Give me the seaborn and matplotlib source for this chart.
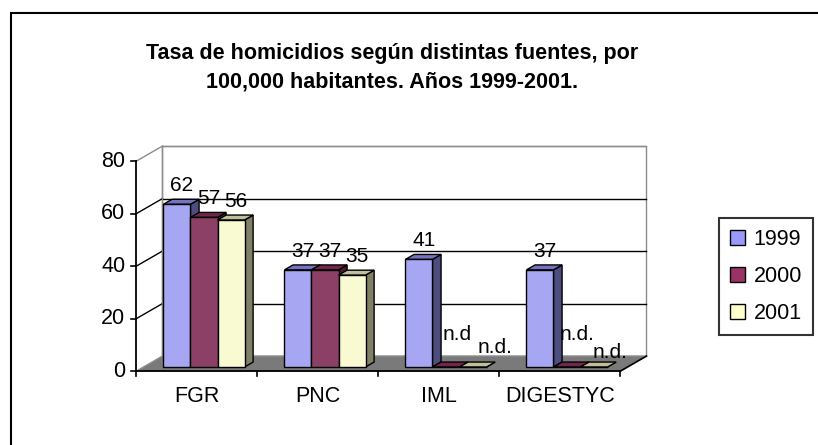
import matplotlib
matplotlib.use("Agg")
import matplotlib.pyplot as plt
from matplotlib.patches import Polygon, Patch, Rectangle
import numpy as np
import pandas as pd
import seaborn as sns

# Chart data
fuentes = ["FGR", "PNC", "IML", "DIGESTYC"]
anios = ["1999", "2000", "2001"]
tasa_1999 = [62, 37, 41, 37]
tasa_2000 = [57, 37, None, None]  # None = n.d.
tasa_2001 = [56, 35, None, None]
y_ticks = [0, 20, 40, 60, 80]

colores = ["#9999FF", "#993366", "#FFFFCC"]

rows = []
for anio, serie in zip(anios, [tasa_1999, tasa_2000, tasa_2001]):
    for f, v in zip(fuentes, serie):
        rows.append({"fuente": f, "anio": anio, "valor": v})
df = pd.DataFrame(rows)
df["nd"] = df["valor"].isna()
df["plot_valor"] = df["valor"].fillna(0)

W, H = 818, 445
fig = plt.figure(figsize=(W / 100, H / 100), dpi=100)
ax = fig.add_axes([0, 0, 1, 1])

sns.barplot(data=df, x="fuente", y="plot_valor", hue="anio", hue_order=anios,
            order=fuentes, palette=colores, width=0.67, gap=0, errorbar=None,
            edgecolor="black", linewidth=1, legend=False, ax=ax)

# pixel mapping of the bar front plane
PX0, PXC = 204, 121.0
PY0, PYV = 367, 2.625
ax.set_xlim(-PX0 / PXC, (W - PX0) / PXC)
ax.set_ylim((PY0 - H) / PYV, PY0 / PYV)
ax.axis("off")

# 3D depth vector (one depth unit) in data units
DX, DY = 26 / PXC, 15 / PYV
z_bar, z_depth = 0.27, 0.33
fx, fy = -z_bar * DX, -z_bar * DY            # front plane offset
bx, by = (1 - z_bar) * DX, (1 - z_bar) * DY  # back wall offset
bdx, bdy = z_depth * DX, z_depth * DY        # bar depth

xl, xr = -0.5, len(fuentes) - 0.5
top = y_ticks[-1]

# back wall
ax.add_patch(Polygon([(xl + bx, by), (xr + bx, by), (xr + bx, top + by), (xl + bx, top + by)],
                     closed=True, facecolor="white", edgecolor="#8c8c8c", lw=1, zorder=0.5))
# floor
ax.add_patch(Polygon([(xl + fx, fy), (xr + fx, fy), (xr + bx, by), (xl + bx, by)],
                     closed=True, facecolor="#7a7a7a", edgecolor="#8c8c8c", lw=1, zorder=0.8))
ax.plot([xr + fx, xr + bx], [fy, by], color="black", lw=1.2, zorder=1)
ax.plot([xl + fx, xr + fx], [fy, fy], color="black", lw=1.3, zorder=1)

# gridlines on back wall and side wall
for t in y_ticks[1:]:
    c = "#8c8c8c" if t == top else "black"
    ax.plot([xl + bx, xr + bx], [t + by, t + by], color=c, lw=1, zorder=0.9)
    ax.plot([xl + fx, xl + bx], [t + fy, t + by], color=c, lw=1, zorder=0.9)
ax.plot([xl + bx, xl + bx], [by, top + by], color="#8c8c8c", lw=1, zorder=0.9)

# y axis
ax.plot([xl + fx, xl + fx], [fy, top + fy], color="black", lw=1.3, zorder=1)
tick_len = 5 / PXC
for t in y_ticks:
    ax.plot([xl + fx - tick_len, xl + fx], [t + fy, t + fy], color="black", lw=1.2, zorder=1)
    ax.text(xl + fx - 11 / PXC, t + fy, str(t), ha="right", va="center",
            fontsize=15.5, family="Liberation Sans")

# x axis ticks and labels
for k in range(len(fuentes) + 1):
    ax.plot([xl + fx + k, xl + fx + k], [fy, fy - 5 / PYV], color="black", lw=1.2, zorder=1)
for i, f in enumerate(fuentes):
    ax.text(i + fx, (PY0 - 397) / PYV, f, ha="center", va="center",
            fontsize=15.5, family="Liberation Sans")


def shade(c, k):
    r = np.array(matplotlib.colors.to_rgb(c))
    return tuple(r * k)


# 3D faces for the seaborn bars
bars = []
for anio, col, cont in zip(anios, colores, ax.containers):
    for f, p in zip(fuentes, cont.patches):
        bars.append((p, col, f, anio))
bars.sort(key=lambda b: b[0].get_x())
for k, (p, col, f, anio) in enumerate(bars):
    x0, w, h = p.get_x(), p.get_width(), p.get_height()
    z = 3 + 2 * k
    ax.add_patch(Polygon([(x0 + w, 0), (x0 + w + bdx, bdy), (x0 + w + bdx, h + bdy), (x0 + w, h)],
                         closed=True, facecolor=shade(col, 0.5), edgecolor="black", lw=1, zorder=z))
    ax.add_patch(Polygon([(x0, h), (x0 + w, h), (x0 + w + bdx, h + bdy), (x0 + bdx, h + bdy)],
                         closed=True, facecolor=shade(col, 0.75), edgecolor="black", lw=1, zorder=z))
    p.set_zorder(z + 1)

# data labels
nd_offsets = {("IML", "2000"): (0.095, 12.2), ("IML", "2001"): (0.18, 7.6),
              ("DIGESTYC", "2000"): (0.08, 12.2), ("DIGESTYC", "2001"): (0.135, 5.7)}
for p, col, f, anio in bars:
    row = df[(df.fuente == f) & (df.anio == anio)].iloc[0]
    cx = p.get_x() + p.get_width() / 2
    if row["nd"]:
        ox, oy = nd_offsets[(f, anio)]
        lbl = "n.d" if (f == "IML" and anio == "2000") else "n.d."
        ax.text(cx + ox, oy, lbl, ha="center", va="center", fontsize=15,
                family="Liberation Sans", zorder=100)
    else:
        ax.text(cx + 0.04, row["valor"] + 5, f"{int(row['valor'])}", ha="center",
                va="baseline", fontsize=15, family="Liberation Sans", zorder=100)

# title
fig.text(392 / W, 1 - 68 / H,
         "Tasa de homicidios según distintas fuentes, por\n100,000 habitantes. Años 1999-2001.",
         ha="center", va="center", multialignment="center", fontsize=15.5, fontweight="bold",
         family="Liberation Sans", linespacing=1.45)

# legend
handles = [Patch(facecolor=c, edgecolor="black", linewidth=1) for c in colores]
leg = fig.legend(handles, anios, loc="upper left", bbox_to_anchor=(719 / W, 1 - 218 / H),
                 frameon=True, fancybox=False, borderaxespad=0, handlelength=0.7,
                 handleheight=0.7, handletextpad=0.4, labelspacing=0.75, borderpad=0.5,
                 prop={"family": "Liberation Sans", "size": 15.5})
leg.get_frame().set_edgecolor("black")
leg.get_frame().set_linewidth(1.5)

# outer chart frame (cropped on the right and bottom)
fig.add_artist(Rectangle((11 / W, -0.1), 1.2, 1.1 - 13 / H, transform=fig.transFigure,
                         fill=False, edgecolor="black", lw=1.5))

fig.savefig("out.png", dpi=100)
